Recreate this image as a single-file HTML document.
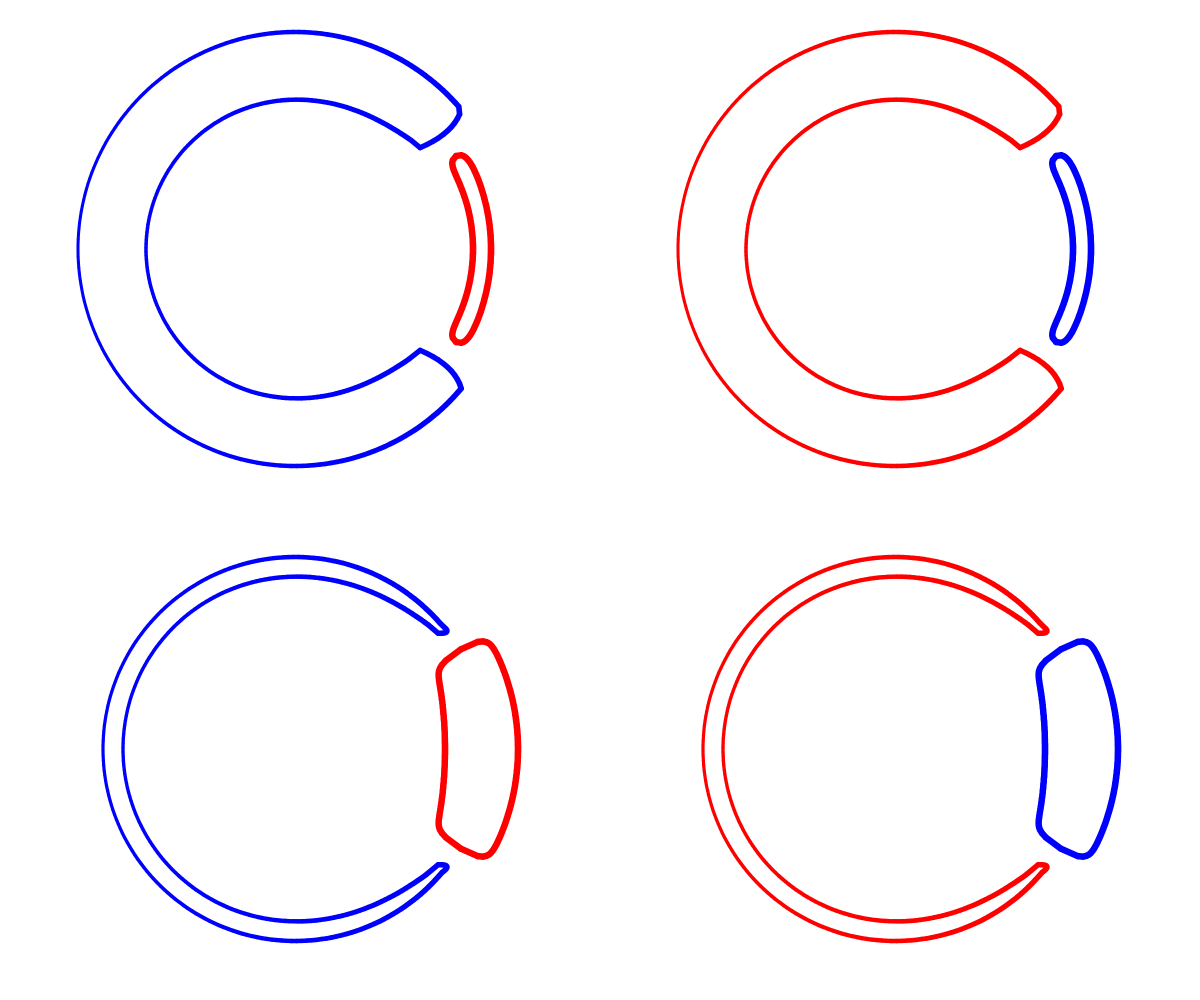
<!DOCTYPE html>
<html><head><meta charset="utf-8"><style>
html,body{margin:0;padding:0;background:#fff;width:1200px;height:1000px;overflow:hidden}
</style></head><body>
<svg id="chart" width="1200" height="1000" xmlns="http://www.w3.org/2000/svg"></svg>
<script>
// panel data
const panelNames = ["top-left","top-right","bottom-left","bottom-right"];
const centerX = [295, 895, 295, 895];
const centerY = [249, 249, 749, 749];
const ringColor = ["#0000ff","#ff0000","#0000ff","#ff0000"];
const lensColor = ["#ff0000","#0000ff","#ff0000","#0000ff"];
// ring (C shape) radii and opening half-angle (deg)
const ringOuter = [217, 217, 192, 192];
const ringInner = [149, 149, 172, 172];
const ringOpen = [40, 40, 40, 40];
// lens shape radii, half angle, inner bow
const lensOuter = [196, 196, 223, 223];
const lensInner = [178, 178, 150, 150];
const lensHalf = [30, 30, 31, 31];
const lensBow = [-2, -2, 14, 14];
const lensTaper = [14, 14, 24, 24];

const svg = document.getElementById('chart');
const NS = "http://www.w3.org/2000/svg";
function pt(cx, cy, r, deg){const a=deg*Math.PI/180;return [cx+r*Math.cos(a), cy+r*Math.sin(a)];}

function drawVar(pts, cx, color, name, wmin, wmax){
  const g=document.createElementNS(NS,"g");
  
  
  for(let k=0;k<pts.length-1;k++){
    const a=pts[k], b=pts[k+1];
    const mx=(a[0]+b[0])/2;
    const t=Math.max(0,Math.min(1,(mx-(cx-220))/440));
    const w=wmin+(wmax-wmin)*t;
    const l=document.createElementNS(NS,"line");
    l.setAttribute("x1",a[0].toFixed(1));l.setAttribute("y1",a[1].toFixed(1));
    l.setAttribute("x2",b[0].toFixed(1));l.setAttribute("y2",b[1].toFixed(1));
    l.setAttribute("stroke",color);l.setAttribute("stroke-width",w.toFixed(2));
    l.setAttribute("stroke-linecap","round");
    g.appendChild(l);
  }
  svg.appendChild(g);
}
function quad(p0,c,p1,n){const r=[];for(let k=1;k<=n;k++){const t=k/n;r.push([(1-t)*(1-t)*p0[0]+2*(1-t)*t*c[0]+t*t*p1[0],(1-t)*(1-t)*p0[1]+2*(1-t)*t*c[1]+t*t*p1[1]]);}return r;}

for(let i=0;i<panelNames.length;i++){
  const cx=centerX[i], cy=centerY[i];
  const o=ringOpen[i];
  let pts=[];
  for(let a=o;a<=360-o;a+=1.5){pts.push(pt(cx,cy,ringOuter[i],a));}
  const endO=pt(cx,cy,ringOuter[i],360-o);
  const endI=pt(cx,cy,ringInner[i]+12,360-o+1);
  const ctrl1=pt(cx,cy,(ringOuter[i]+ringInner[i])/2+14,360-o+4);
  pts=pts.concat(quad(endO,ctrl1,endI,10));
  for(let a=360-o-3;a>=o+3;a-=1.5){
    const t=Math.min(1,Math.abs(a-180)/(180-o));
    const r=ringInner[i]+12*Math.pow(t,8);
    pts.push(pt(cx,cy,r,a));
  }
  const stI=pt(cx,cy,ringInner[i]+12,o-1);
  const ctrl2=pt(cx,cy,(ringOuter[i]+ringInner[i])/2+14,o-4);
  pts.push(stI);
  pts=pts.concat(quad(stI,ctrl2,pt(cx,cy,ringOuter[i],o),10));
  drawVar(pts,cx,ringColor[i],panelNames[i]+'-ring',3,6);

  // lens
  const h=lensHalf[i];
  let lp=[];
  const N=100;
  for(let k=0;k<=N;k++){
    const t=-1+2*k/N, a=t*h;
    const ri=lensInner[i]+lensBow[i]*t*t;
    const ro=lensOuter[i];
    const m=(ro+ri)/2, hw=(ro-ri)/2*Math.pow(Math.max(0,1-Math.pow(Math.abs(t),lensTaper[i])),0.5);
    lp.push(pt(cx,cy,m+hw,a));
  }
  for(let k=N;k>=0;k--){
    const t=-1+2*k/N, a=t*h;
    const ri=lensInner[i]+lensBow[i]*t*t;
    const ro=lensOuter[i];
    const m=(ro+ri)/2, hw=(ro-ri)/2*Math.pow(Math.max(0,1-Math.pow(Math.abs(t),lensTaper[i])),0.5);
    lp.push(pt(cx,cy,m-hw,a));
  }
  lp.push(lp[0]);
  drawVar(lp,cx,lensColor[i],panelNames[i]+'-lens',6,6.5);
}
</script>
</body></html>
